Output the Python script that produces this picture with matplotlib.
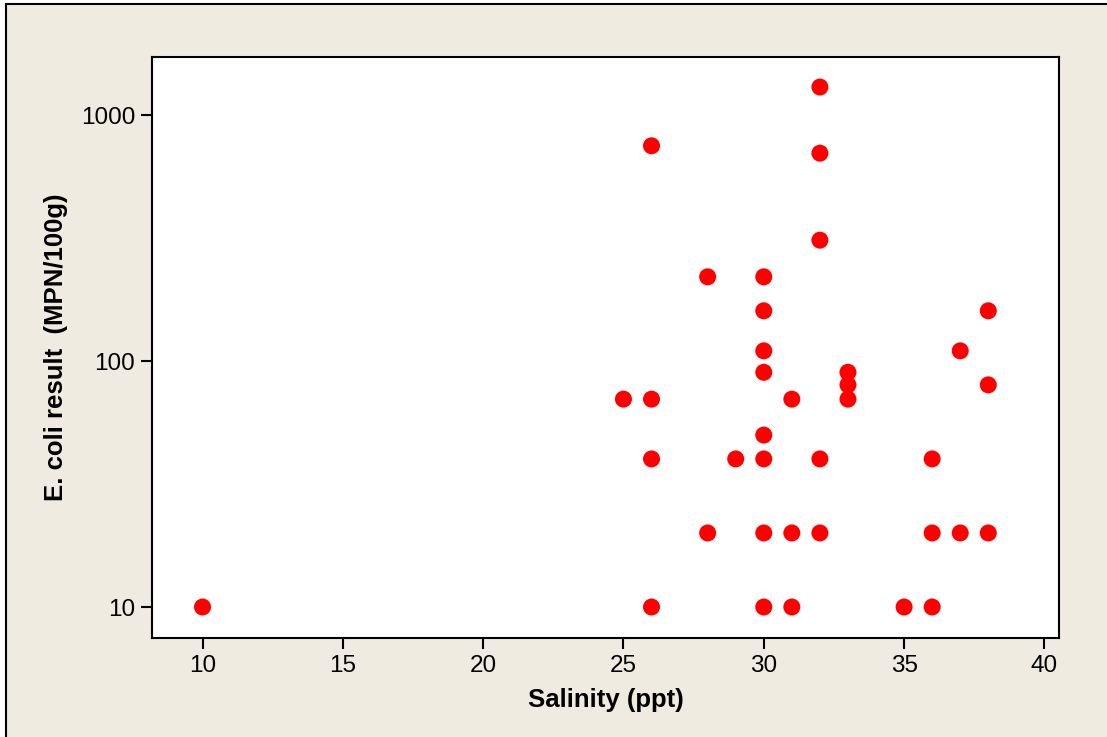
import numpy as np
import matplotlib
matplotlib.use('Agg')
import matplotlib.pyplot as plt
from matplotlib.patches import Rectangle
from matplotlib.ticker import FixedLocator, NullLocator

# salinity (ppt) and E. coli result (MPN/100g)
salinity = [10,
            25,
            26, 26, 26, 26,
            28, 28,
            29,
            30, 30, 30, 30, 30, 30, 30, 30,
            31, 31, 31,
            32, 32, 32, 32, 32,
            33, 33, 33,
            35,
            36, 36, 36,
            37, 37,
            38, 38, 38]
ecoli = [10,
         70,
         750, 70, 40, 10,
         220, 20,
         40,
         220, 160, 110, 90, 50, 40, 20, 10,
         70, 20, 10,
         1300, 700, 310, 40, 20,
         90, 80, 70,
         10,
         40, 20, 10,
         110, 20,
         160, 80, 20]

x_ticks = [10, 15, 20, 25, 30, 35, 40]
y_ticks = [10, 100, 1000]

W, H = 1107, 737
fig = plt.figure(figsize=(W / 100, H / 100), dpi=100)
fig.patch.set_facecolor('white')
bg = '#EFEBE1'
fig.patches.append(Rectangle((6 / W, -0.05), 1.1, 1 - 4 / H + 0.05, transform=fig.transFigure,
                             facecolor=bg, edgecolor='black', linewidth=1.5, zorder=-10))

plt.rcParams['font.family'] = ['Liberation Sans', 'DejaVu Sans']

ax = fig.add_axes([152 / W, 1 - 638 / H, (1059 - 152) / W, (638 - 57) / H])
ax.set_facecolor('white')
ax.scatter(salinity, ecoli, s=150, color='#FF0000', edgecolors='none', zorder=3)

ax.set_yscale('log')
ax.set_xlim(8.2, 40.52)
ax.set_ylim(10 ** 0.874, 10 ** 3.236)
ax.xaxis.set_major_locator(FixedLocator(x_ticks))
ax.yaxis.set_major_locator(FixedLocator(y_ticks))
ax.yaxis.set_minor_locator(NullLocator())
ax.set_yticklabels([str(v) for v in y_ticks])
ax.set_xticklabels([str(v) for v in x_ticks])

for sp in ax.spines.values():
    sp.set_linewidth(1.5)
ax.tick_params(direction='out', length=8, width=1.5, labelsize=17.5, pad=4, colors='black')

ax.set_xlabel('Salinity (ppt)', fontsize=18.5, fontweight='bold', labelpad=8)
ax.set_ylabel('E. coli result  (MPN/100g)', fontsize=18.5, fontweight='bold', labelpad=9)

plt.savefig('out.png', dpi=100, facecolor=fig.get_facecolor())
